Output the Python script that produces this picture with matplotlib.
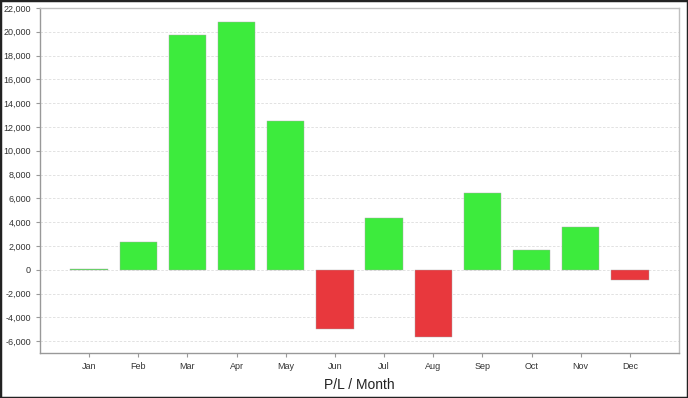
import matplotlib
matplotlib.use("Agg")
import matplotlib.pyplot as plt
from matplotlib.patches import Rectangle
from matplotlib.ticker import FuncFormatter, MultipleLocator

plt.rcParams["font.family"] = ["Liberation Sans", "DejaVu Sans"]

months = ["Jan", "Feb", "Mar", "Apr", "May", "Jun", "Jul", "Aug", "Sep", "Oct", "Nov", "Dec"]
pl_values = [100, 2350, 19700, 20800, 12500, -4950, 4370, -5630, 6470, 1700, 3610, -840]

green = "#3deb3d"
red = "#e8383d"
colors = [green if v >= 0 else red for v in pl_values]

fig = plt.figure(figsize=(6.88, 3.98), dpi=100)
ax = fig.add_axes([40 / 688, 1 - 353 / 398, 639 / 688, 345 / 398])

x = list(range(len(months)))
ax.bar(x, pl_values, width=0.76, color=colors, edgecolor="#a8a8a8", linewidth=0.3, zorder=3)

ax.set_xlim(-1, 12)
ax.set_ylim(-7000, 22000)
ax.yaxis.set_major_locator(MultipleLocator(2000))
ax.yaxis.set_major_formatter(FuncFormatter(lambda v, p: "{:,.0f}".format(v)))
ax.set_xticks(x)
ax.set_xticklabels(months)
ax.tick_params(axis="both", labelsize=6.5, colors="#999999", labelcolor="#333333", length=3, width=0.8)
ax.grid(axis="y", color="#dddddd", linestyle=(0, (3, 2)), linewidth=0.6, zorder=0)

for side in ["left", "bottom"]:
    ax.spines[side].set_color("#999999")
    ax.spines[side].set_linewidth(1.0)
for side in ["top", "right"]:
    ax.spines[side].set_color("#c0c0c0")
    ax.spines[side].set_linewidth(1.0)

ax.set_xlabel("P/L / Month", fontsize=10, color="#222222", labelpad=5)

# dark frame around the whole picture
fig.patches.append(Rectangle((0, 0), 1, 1, transform=fig.transFigure, fill=False,
                             edgecolor="#222222", linewidth=2.5))

fig.savefig("out.png", dpi=100)
